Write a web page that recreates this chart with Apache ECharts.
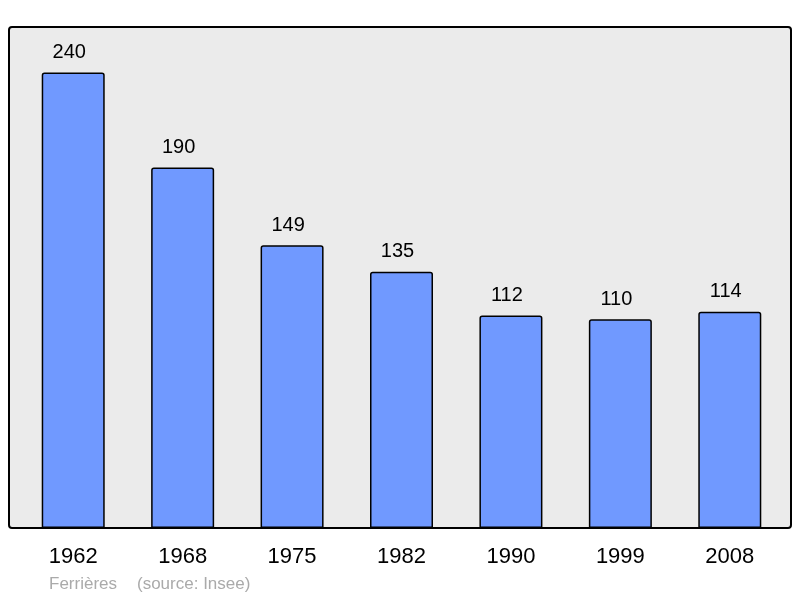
<!DOCTYPE html>
<html><head><meta charset="utf-8">
<script src="https://cdn.jsdelivr.net/npm/echarts@6/dist/echarts.min.js"></script>
<style>html,body{margin:0;padding:0;background:#fff}#c{width:800px;height:598px}</style>
</head><body><div id="c"></div>
<script>
const years = ['1962','1968','1975','1982','1990','1999','2008'];
const population = [240,190,149,135,112,110,114];
const commune = 'Ferrières';
const source = '(source: Insee)';

const chart = echarts.init(document.getElementById('c'), null, {renderer:'canvas'});
chart.setOption({
  animation:false,
  backgroundColor:'#ffffff',
  graphic:[
    {type:'rect', z:-10, shape:{x:9,y:27,width:782,height:501,r:3}, style:{fill:'#ebebeb',stroke:'#000',lineWidth:2}},
    {type:'text', left:49, top:576, style:{text:commune, fill:'#aaaaaa', font:'17px "Liberation Sans", Arial, sans-serif'}},
    {type:'text', left:137, top:576, style:{text:source, fill:'#aaaaaa', font:'17px "Liberation Sans", Arial, sans-serif'}}
  ],
  grid:{left:18.5, right:15.5, top:27, bottom:70, containLabel:false},
  xAxis:{type:'category', data:years,
    axisLine:{show:false}, axisTick:{show:false},
    axisLabel:{color:'#000', fontSize:22, fontFamily:'"Liberation Sans", Arial, sans-serif', margin:18}},
  yAxis:{type:'value', min:0, max:264, show:false, splitLine:{show:false}},
  series:[{type:'bar', data:population, barWidth:63,
    itemStyle:{color:'#7099ff', borderColor:'#000', borderWidth:1.5, borderRadius:[2,2,0,0]},
    label:{show:true, position:'top', distance:11, offset:[-4,1], color:'#000', fontSize:20, fontFamily:'"Liberation Sans", Arial, sans-serif'}}]
});
</script></body></html>
